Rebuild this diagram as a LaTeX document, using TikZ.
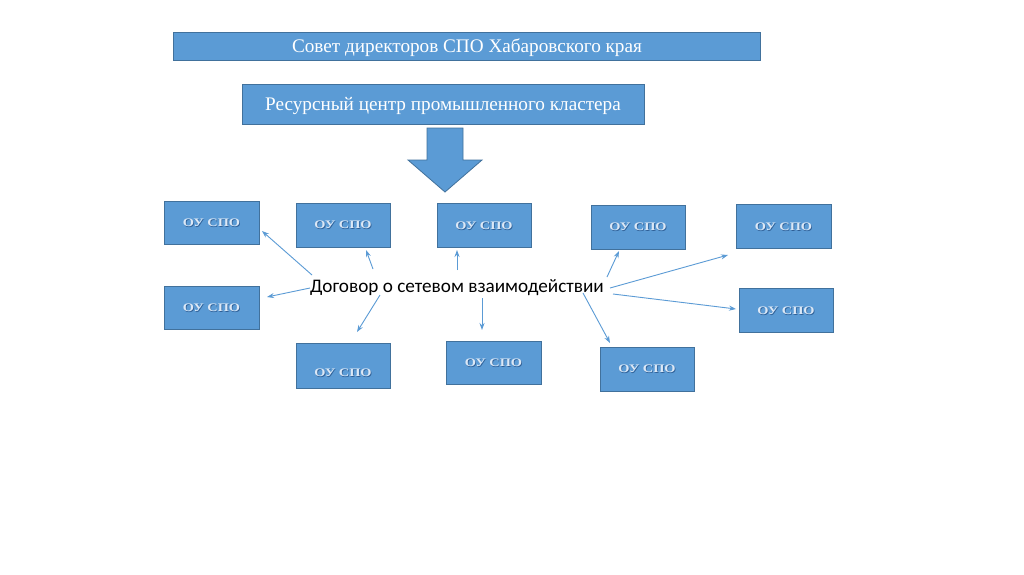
\documentclass[tikz,border=0pt]{standalone}
\usepackage{fontspec}
\usepackage{graphicx}
\setmainfont{Liberation Serif}
\newfontfamily\carlito{Carlito}
\usetikzlibrary{arrows.meta}
\definecolor{boxfill}{HTML}{5B9BD5}
\definecolor{boxline}{HTML}{41719C}
\definecolor{oulight}{HTML}{DCE8F6}
\definecolor{oudark}{HTML}{2F5F96}
\newcommand\ousign{\scalebox{1.25}[1]{\makebox[0pt][l]{\raisebox{-0.6pt}{\hspace{0.6pt}\textcolor{oudark}{ОУ СПО}}}\textcolor{oulight}{ОУ СПО}}}
\tikzset{
  bluebox/.style={draw=boxline, line width=0.8pt, fill=boxfill},
  headtext/.style={text=white, font=\fontsize{19.2}{21}\selectfont, inner sep=0pt},
  outext/.style={font=\bfseries\fontsize{11.5}{13}\selectfont, inner sep=0pt},
  linkarrow/.style={draw=boxfill, line width=0.9pt, -{Stealth[length=7pt,width=5pt]}},
  pacttext/.style={font=\carlito\fontsize{19.2}{21}\selectfont, inner sep=0pt, text=black}
}
\begin{document}
\begin{tikzpicture}[x=1pt,y=-1pt]
\useasboundingbox[fill=white] (0,0) rectangle (1024,574);
% header boxes
\draw[bluebox] (173,32) rectangle (760,60);
\node[headtext] (t1) at (467,48) {Совет директоров СПО Хабаровского края};
\draw[bluebox] (242,84) rectangle (644,124);
\node[headtext] (t2) at (443,106) {Ресурсный центр промышленного кластера};
% big arrow
\draw[bluebox] (427,128) -- (463,128) -- (463,160) -- (482,160) -- (445,192) -- (408,160) -- (427,160) -- cycle;
% small boxes
\node[bluebox, minimum width=95pt, minimum height=43pt, inner sep=0pt] (b1) at (211.5,222.5) {};
\node[bluebox, minimum width=94pt, minimum height=44pt, inner sep=0pt] (b2) at (343,225) {};
\node[bluebox, minimum width=94pt, minimum height=44pt, inner sep=0pt] (b3) at (484,225) {};
\node[bluebox, minimum width=95pt, minimum height=43pt, inner sep=0pt] (b4) at (211.5,307.5) {};
\node[bluebox, minimum width=94pt, minimum height=45pt, inner sep=0pt] (b5) at (343,365.5) {};
\node[bluebox, minimum width=95pt, minimum height=43pt, inner sep=0pt] (b6) at (493.5,362.5) {};
\node[bluebox, minimum width=94pt, minimum height=44pt, inner sep=0pt] (b7) at (638,227) {};
\node[bluebox, minimum width=95pt, minimum height=44pt, inner sep=0pt] (b8) at (783.5,226) {};
\node[bluebox, minimum width=94pt, minimum height=44pt, inner sep=0pt] (b9) at (786,310) {};
\node[bluebox, minimum width=94pt, minimum height=44pt, inner sep=0pt] (b10) at (647,369) {};
% labels in small boxes
\node[outext] (l1) at (211.5,223) {\ousign};
\node[outext] (l2) at (343,225) {\ousign};
\node[outext] (l3) at (484,226) {\ousign};
\node[outext] (l4) at (211.5,308) {\ousign};
\node[outext] (l5) at (343,373) {\ousign};
\node[outext] (l6) at (493.5,363) {\ousign};
\node[outext] (l7) at (638,227) {\ousign};
\node[outext] (l8) at (783.5,227) {\ousign};
\node[outext] (l9) at (786,311) {\ousign};
\node[outext] (l10) at (647,369) {\ousign};
% central text
\node[pacttext] (pact) at (457,288) {Договор о сетевом взаимодействии};
% arrow end points
\coordinate (s1) at (312,275); \coordinate (e1) at (262,231);
\coordinate (s2) at (373,269); \coordinate (e2) at (366,250);
\coordinate (s3) at (457,270); \coordinate (e3) at (457,250);
\coordinate (s4) at (310,288); \coordinate (e4) at (267,297);
\coordinate (s5) at (380,295); \coordinate (e5) at (357,332);
\coordinate (s6) at (482,298); \coordinate (e6) at (482,330);
\coordinate (s7) at (607,277); \coordinate (e7) at (619,251);
\coordinate (s8) at (610,288); \coordinate (e8) at (728,255);
\coordinate (s9) at (613,294); \coordinate (e9) at (736,309);
\coordinate (s10) at (583,293); \coordinate (e10) at (610,343);
\foreach \i in {1,...,10} \draw[linkarrow] (s\i) -- (e\i);
\end{tikzpicture}
\end{document}
